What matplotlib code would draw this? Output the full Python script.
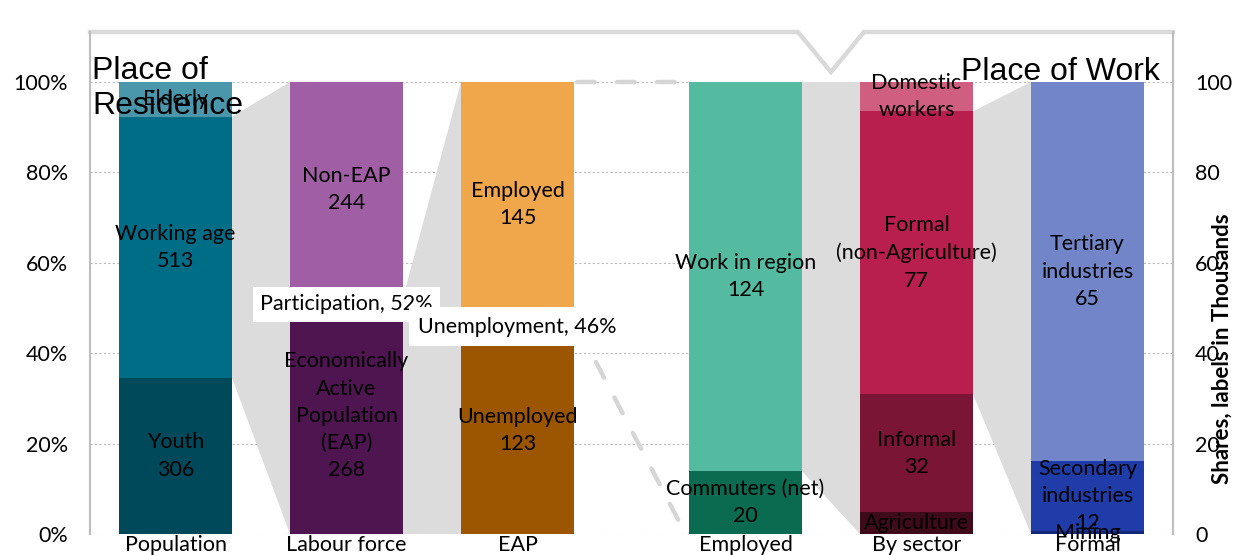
import matplotlib
matplotlib.use('Agg')
import matplotlib.pyplot as plt
import numpy as np
from matplotlib.lines import Line2D

# ---------------- data ----------------
categories = ['Population', 'Labour force', 'EAP', 'Employed', 'By sector', 'Formal']

pop_labels = ['Youth', 'Working age', 'Elderly']
pop_values = [306, 513, 68]
pop_show = [True, True, False]

lab_labels = ['Economically\nActive\nPopulation\n(EAP)', 'Non-EAP']
lab_values = [268, 244]
lab_show = [True, True]

eap_labels = ['Unemployed', 'Employed']
eap_values = [123, 145]
eap_show = [True, True]

emp_labels = ['Commuters (net)', 'Work in region']
emp_values = [20, 124]
emp_show = [True, True]

sector_labels = ['Agriculture', 'Informal', 'Formal\n(non-Agriculture)', 'Domestic\nworkers']
sector_values = [6, 32, 77, 8]
sector_show = [False, True, True, False]

formal_labels = ['Mining', 'Secondary\nindustries', 'Tertiary\nindustries']
formal_values = [0.5, 12, 65]
formal_show = [False, True, True]

pop_colors = ['#00495A', '#006D87', '#4A96AA']
lab_colors = ['#4F1550', '#A05FA5']
eap_colors = ['#9C5500', '#F0A64A']
emp_colors = ['#0B6B50', '#54BBA1']
sector_colors = ['#3F0A1A', '#7A1535', '#B81E4E', '#D05E80']
formal_colors = ['#13287A', '#1F3CA8', '#7185C8']

stacks = [
    (pop_labels, pop_values, pop_colors, pop_show),
    (lab_labels, lab_values, lab_colors, lab_show),
    (eap_labels, eap_values, eap_colors, eap_show),
    (emp_labels, emp_values, emp_colors, emp_show),
    (sector_labels, sector_values, sector_colors, sector_show),
    (formal_labels, formal_values, formal_colors, formal_show),
]

# connectors: (bar index, segment index that feeds the next bar, style)
connectors = [(0, 1, 'fill'), (1, 0, 'fill'), (2, 1, 'dash'), (3, 1, 'fill'), (4, 2, 'fill')]

participation = lab_values[0] / pop_values[1]
unemployment = eap_values[0] / lab_values[0]

# ---------------- layout ----------------
positions = [0, 1, 2, 3.333, 4.333, 5.333]
width = 0.661
W, H = 1237, 555
LABEL_FONT = ['Lato', 'DejaVu Sans']
TITLE_FONT = ['Liberation Sans', 'DejaVu Sans']
FS = 15.5

fig = plt.figure(figsize=(W / 100, H / 100), dpi=100)
fig.patch.set_facecolor('white')
ax = fig.add_axes([90 / W, 21 / H, (1173 - 90) / W, 452 / H])
ax.set_xlim(-0.5, 5.833)
ax.set_ylim(0, 1)
ax.set_facecolor('none')

for s in ax.spines.values():
    s.set_visible(False)

# grid
for g in np.arange(0, 1.01, 0.2):
    ax.axhline(g, color='#BBBBBB', lw=0.8, ls=(0, (2, 2)), zorder=0.5)

# bars
shares_all = []
for i, (labels, values, colors, show) in enumerate(stacks):
    total = sum(values)
    shares = [v / total for v in values]
    shares_all.append(shares)
    bottom = 0.0
    for lab, v, sh, c, sv in zip(labels, values, shares, colors, show):
        ax.bar(positions[i], sh, bottom=bottom, width=width, color=c,
               edgecolor='none', zorder=2)
        txt = f'{lab}\n{v:.0f}' if sv else lab
        ax.text(positions[i], bottom + sh / 2, txt, ha='center', va='center',
                fontsize=FS, family=LABEL_FONT, color='black', zorder=4,
                linespacing=1.45)
        bottom += sh

# connectors
for (i, seg, style) in connectors:
    sh = shares_all[i]
    lo = sum(sh[:seg])
    hi = lo + sh[seg]
    x0 = positions[i] + width / 2
    x1 = positions[i + 1] - width / 2
    if style == 'fill':
        ax.fill([x0, x1, x1, x0], [lo, 0, 1, hi], color='#DCDCDC', lw=0, zorder=1)
    else:
        for ya, yb in [(hi, 1), (lo, 0)]:
            ax.plot([x0 + 0.02, x1 - 0.02], [ya, yb], color='#D6D6D6', lw=3.2,
                    ls=(0, (4, 5)), dash_capstyle='round', zorder=1.5,
                    clip_on=False)

# rate boxes
ax.text(positions[1], participation - 0.014, f'Participation, {participation:.0%}',
        ha='center', va='center', fontsize=FS, family=LABEL_FONT, zorder=5,
        bbox=dict(boxstyle='square,pad=0.35', fc='white', ec='none'))
ax.text(positions[2], unemployment, f'Unemployment, {unemployment:.0%}',
        ha='center', va='center', fontsize=FS, family=LABEL_FONT, zorder=5,
        bbox=dict(boxstyle='square,pad=0.45', fc='white', ec='none'))

# frame lines (top bracket with V, side lines)
ytop = (534 - 32) / 452
yv = (534 - 72) / 452
xv = (positions[3] + positions[4]) / 2
ax.add_line(Line2D([-0.5, xv - 0.193, xv, xv + 0.193, 5.833],
                   [ytop, ytop, yv, ytop, ytop], color='#D9D9D9', lw=3.2,
                   clip_on=False, zorder=1, solid_joinstyle='miter'))
for xs in (-0.5, 5.833):
    ax.add_line(Line2D([xs, xs], [0, ytop], color='#BDBDBD', lw=1.5,
                       clip_on=False, zorder=1))

# titles
ax.text(-0.5 + 2 / 171, (534 - 56) / 452, 'Place of\nResidence', ha='left', va='top',
        fontsize=23, family=TITLE_FONT, zorder=6, linespacing=1.22)
ax.text((1160 - 175.5) / 171, (534 - 80) / 452, 'Place of Work', ha='right',
        va='baseline', fontsize=23, family=TITLE_FONT, zorder=6)

# axes ticks
ax.set_yticks(np.arange(0, 1.01, 0.2))
ax.set_yticklabels([f'{t:.0%}' for t in np.arange(0, 1.01, 0.2)],
                   fontsize=FS, family=LABEL_FONT)
ax.tick_params(axis='y', length=0, pad=16)
ax.set_xticks(positions)
ax.set_xticklabels(categories, fontsize=FS, family=LABEL_FONT)
ax.tick_params(axis='x', length=0, pad=1)

ax2 = ax.twinx()
ax2.set_ylim(0, 100)
for s in ax2.spines.values():
    s.set_visible(False)
ax2.set_yticks(np.arange(0, 101, 20))
ax2.set_yticklabels([str(t) for t in range(0, 101, 20)], fontsize=FS, family=LABEL_FONT)
ax2.tick_params(axis='y', length=0, pad=16)

fig.text(1222 / W, (H - 349) / H, 'Shares, labels in Thousands', rotation=90,
         ha='center', va='center', fontsize=16, fontweight='bold', family=LABEL_FONT)

fig.savefig('out.png', dpi=100, facecolor='white')
